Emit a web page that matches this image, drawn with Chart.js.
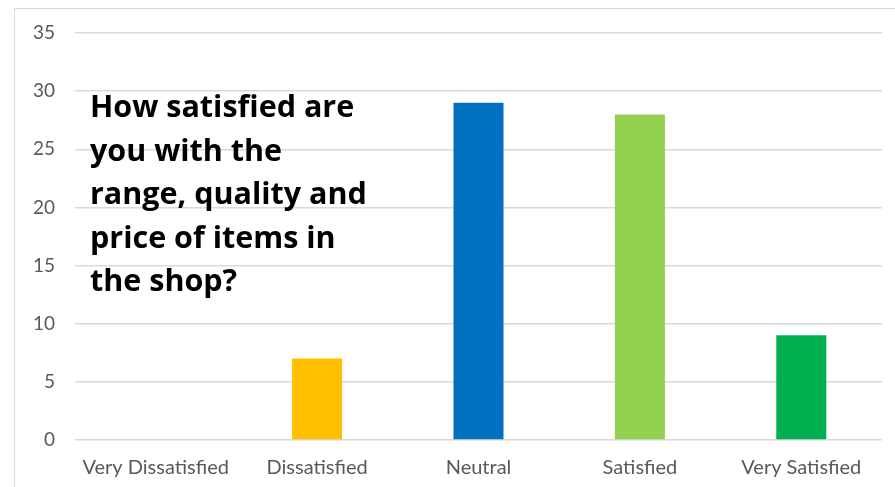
<!DOCTYPE html>
<html lang="en">
<head>
    <meta charset="UTF-8">
    <title>Shop satisfaction</title>
    <script src="https://cdn.jsdelivr.net/npm/chart.js"></script>
    <style>
        html, body { margin: 0; padding: 0; background: #fff; }
        .wrap { position: relative; width: 895px; height: 487px; overflow: hidden; }
        .frame { position: absolute; left: 14px; top: 8px; width: 900px; height: 500px; border: 1.5px solid #d9d9d9; }
        canvas { position: absolute; left: 0; top: 0; }
        .question {
            position: absolute; left: 90px; top: 84px;
            font-family: "Open Sans", sans-serif; font-weight: 700; font-size: 30.5px;
            line-height: 43.5px; color: #000;
        }
    </style>
</head>
<body>
    <div class="wrap">
        <div class="frame"></div>
        <canvas id="chart" width="895" height="487"></canvas>
        <div class="question">How satisfied are<br>you with the<br>range, quality and<br>price of items in<br>the shop?</div>
    </div>

    <script>
        const categories = ['Very Dissatisfied', 'Dissatisfied', 'Neutral', 'Satisfied', 'Very Satisfied'];
        const responses = [0, 7, 29, 28, 9];
        const barColors = ['#C00000', '#FFC000', '#0070C0', '#92D050', '#00B050'];
        const yTicks = [0, 5, 10, 15, 20, 25, 30, 35];

        const ctx = document.getElementById('chart').getContext('2d');
        new Chart(ctx, {
            type: 'bar',
            data: {
                labels: categories,
                datasets: [{
                    data: responses,
                    backgroundColor: barColors,
                    borderWidth: 0,
                    categoryPercentage: 1,
                    barPercentage: 0.31
                }]
            },
            options: {
                responsive: false,
                animation: false,
                layout: { padding: { top: 33, right: 13, left: 0, bottom: 0 } },
                plugins: { legend: { display: false }, tooltip: { enabled: false } },
                scales: {
                    x: {
                        grid: { display: false },
                        border: { display: false },
                        ticks: { color: '#595959', font: { family: 'Lato', size: 20 }, padding: 8 },
                        afterFit: scale => { scale.height = 47; }
                    },
                    y: {
                        min: 0,
                        max: 35,
                        afterBuildTicks: scale => { scale.ticks = yTicks.map(v => ({ value: v })); },
                        grid: { color: '#d9d9d9', lineWidth: 1.5, drawTicks: false },
                        border: { display: false },
                        ticks: { color: '#595959', font: { family: 'Lato', size: 19 }, padding: 20 },
                        afterFit: scale => { scale.width = 75; }
                    }
                }
            }
        });
    </script>
</body>
</html>
